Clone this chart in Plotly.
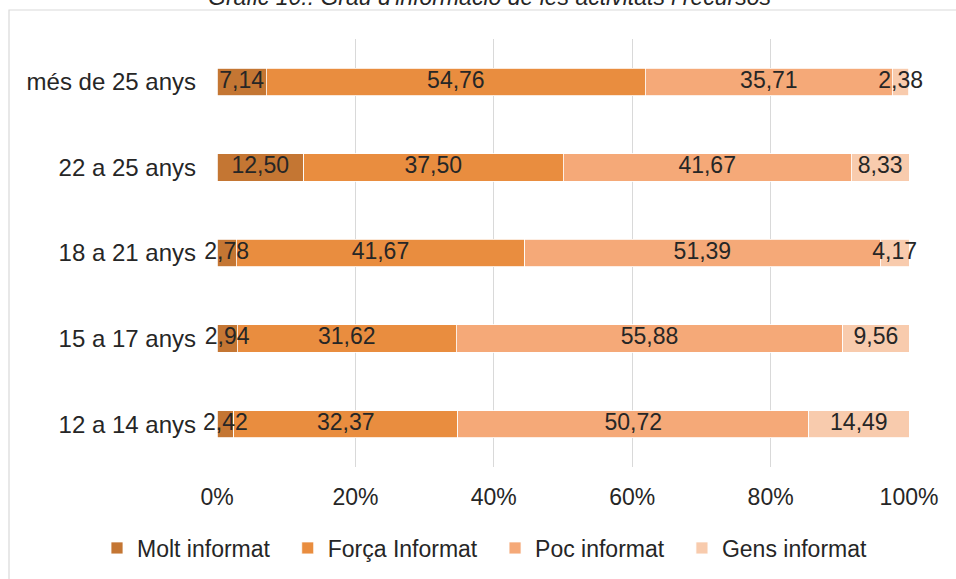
import plotly.graph_objects as go

# categories (bottom to top as drawn)
ages = ["12 a 14 anys", "15 a 17 anys", "18 a 21 anys", "22 a 25 anys", "més de 25 anys"]

molt = [2.42, 2.94, 2.78, 12.50, 7.14]
forca = [32.37, 31.62, 41.67, 37.50, 54.76]
poc = [50.72, 55.88, 51.39, 41.67, 35.71]
gens = [14.49, 9.56, 4.17, 8.33, 2.38]

# trailing no-break spaces widen the legend entries like the original
series = [
    ("Molt informat\u00a0\u00a0", molt, "#C47633"),
    ("Força Informat\u00a0\u00a0", forca, "#E98D3F"),
    ("Poc informat\u00a0\u00a0", poc, "#F5A978"),
    ("Gens informat", gens, "#F8CBAD"),
]

FONT = "Liberation Sans, Arial, sans-serif"
TXT = "#262626"
FS = 23

fig = go.Figure()
base = [0.0] * len(ages)
label_traces = []
for name, vals, col in series:
    fig.add_trace(go.Bar(
        y=ages,
        x=vals,
        name=name,
        orientation="h",
        marker=dict(color=col, line=dict(color="white", width=0.8)),
        textposition="none",
        hoverinfo="x+y+name",
    ))
    # labels centred on each segment, drawn on top of all bars
    mids = [b + v / 2 for b, v in zip(base, vals)]
    label_traces.append(go.Scatter(
        x=mids, y=ages, customdata=vals,
        mode="text",
        texttemplate="%{customdata:.2f}",
        textposition="middle center",
        textfont=dict(family=FONT, size=FS, color=TXT),
        cliponaxis=False,
        showlegend=False,
        hoverinfo="skip",
    ))
    base = [b + v for b, v in zip(base, vals)]

for t in label_traces:
    fig.add_trace(t)

# px geometry: plot area 217..909 x 39..467
L, R, T, B = 217, 47, 39, 112
W, H = 956, 579
pw, ph = W - L - R, H - T - B

def px(x):
    return (x - L) / pw

def py(y):
    return (H - B - y) / ph

fig.update_layout(
    width=W, height=H,
    barmode="stack",
    bargap=0.68,
    separators=",.",
    margin=dict(l=L, r=R, t=T, b=B, autoexpand=False),
    paper_bgcolor="white",
    plot_bgcolor="white",
    font=dict(family=FONT, size=FS, color=TXT),
    xaxis=dict(
        range=[0, 100], dtick=20, ticksuffix="%",
        showgrid=True, gridcolor="#D9D9D9", gridwidth=1,
        zeroline=False, showline=False,
        ticklabelstandoff=14,
        automargin=False,
    ),
    yaxis=dict(
        showgrid=False, zeroline=False, showline=False,
        ticklabelstandoff=20,
        tickfont=dict(size=24),
        automargin=False,
    ),
    legend=dict(
        orientation="h",
        x=px(97), xanchor="left",
        y=py(548), yanchor="middle",
        font=dict(size=FS),
        traceorder="normal",
        itemwidth=30,
    ),
    annotations=[dict(
        text="Gràfic 10.: Grau d'informació de les activitats i recursos",
        xref="paper", yref="paper",
        x=px(489), y=py(-3), xanchor="center", yanchor="middle",
        showarrow=False,
        font=dict(family=FONT, size=FS, color=TXT, style="italic"),
    )],
    shapes=[dict(
        type="rect", xref="paper", yref="paper",
        x0=px(9), x1=px(962), y0=py(600), y1=py(10),
        line=dict(color="#D9D9D9", width=1.2),
        fillcolor="rgba(0,0,0,0)", layer="below",
    )],
)

fig.write_html("out.html", config={"displayModeBar": False},
               post_script="document.body.style.margin='0';")
